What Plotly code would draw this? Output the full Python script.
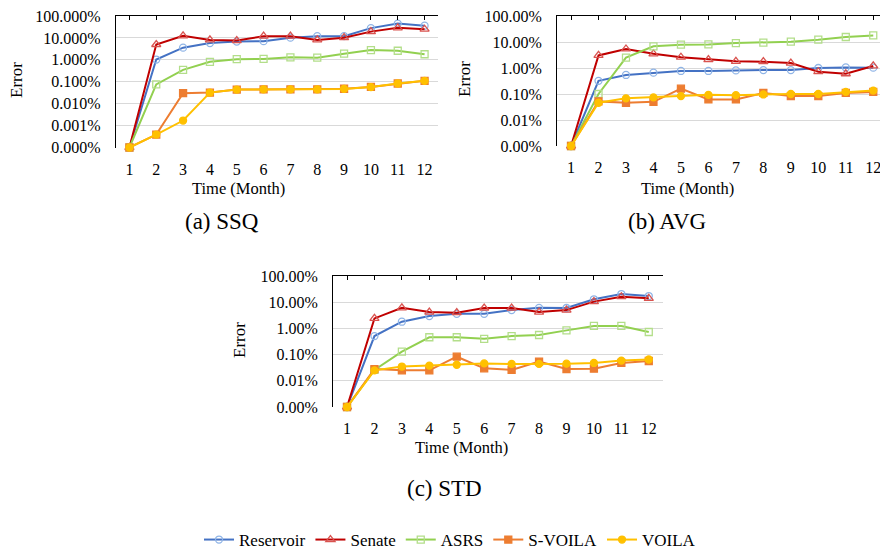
import math
import plotly.graph_objects as go

# page is rendered with the browser's default 8px body margin, so the figure is 8px smaller
OFF = 8
W, H = 888 - OFF, 551 - OFF

months = list(range(1, 13))
series_names = ["Reservoir", "Senate", "ASRS", "S-VOILA", "VOILA"]

# Error values in percent. Month 1 has zero error; it sits on the bottom tick ("0.000%"/"0.00%").
ssq_reservoir = [1e-4, 1.03, 3.6, 5.8, 6.8, 7.1, 10.3, 12, 12, 28, 45, 36]
ssq_senate = [1e-4, 5.0, 12.5, 8.1, 7.6, 12, 12, 8.1, 10.3, 19.4, 29, 25]
ssq_asrs = [1e-4, 0.076, 0.35, 0.81, 1.07, 1.1, 1.3, 1.25, 1.9, 2.8, 2.6, 1.8]
ssq_svoila = [1e-4, 0.00039, 0.030, 0.032, 0.044, 0.045, 0.045, 0.045, 0.048, 0.058, 0.083, 0.11]
ssq_voila = [1e-4, 0.00039, 0.0017, 0.032, 0.044, 0.045, 0.045, 0.045, 0.047, 0.057, 0.083, 0.11]

avg_reservoir = [1e-3, 0.32, 0.54, 0.66, 0.77, 0.77, 0.81, 0.83, 0.83, 1.0, 1.05, 1.03]
avg_senate = [1e-3, 3.05, 5.4, 3.5, 2.6, 2.1, 1.8, 1.75, 1.55, 0.72, 0.6, 1.2]
avg_asrs = [1e-3, 0.10, 2.5, 6.8, 7.9, 8.1, 9.1, 9.4, 10.3, 12.3, 15.6, 17.9]
avg_svoila = [1e-3, 0.052, 0.046, 0.05, 0.16, 0.062, 0.062, 0.11, 0.083, 0.083, 0.11, 0.12]
avg_voila = [1e-3, 0.046, 0.068, 0.074, 0.083, 0.093, 0.09, 0.096, 0.10, 0.10, 0.12, 0.135]

std_reservoir = [1e-3, 0.51, 1.8, 2.95, 3.6, 3.6, 5.0, 6.1, 6.0, 12.9, 20.5, 17.2]
std_senate = [1e-3, 2.4, 6.1, 4.2, 4.0, 6.0, 6.0, 4.2, 5.0, 10.5, 16.2, 14.1]
std_asrs = [1e-3, 0.026, 0.13, 0.46, 0.46, 0.40, 0.51, 0.56, 0.84, 1.24, 1.24, 0.73]
std_svoila = [1e-3, 0.028, 0.025, 0.025, 0.083, 0.030, 0.026, 0.054, 0.028, 0.029, 0.048, 0.057]
std_voila = [1e-3, 0.025, 0.035, 0.038, 0.041, 0.046, 0.044, 0.044, 0.045, 0.048, 0.059, 0.065]

ssq_tickvals = [1e-4, 1e-3, 1e-2, 1e-1, 1, 10, 100]
ssq_ticktext = ["0.000%", "0.001%", "0.010%", "0.100%", "1.000%", "10.000%", "100.000%"]
avg_tickvals = [1e-3, 1e-2, 1e-1, 1, 10, 100]
avg_ticktext = ["0.00%", "0.01%", "0.10%", "1.00%", "10.00%", "100.00%"]
std_tickvals = avg_tickvals
std_ticktext = avg_ticktext

captions = ["(a) SSQ", "(b) AVG", "(c) STD"]

# styles
line_colors = ["#4472C4", "#C00000", "#92D050", "#ED7D31", "#FFC000"]
marker_colors = ["#8FB4E6", "#D9534F", "#B3DE8A", "#ED7D31", "#FFC000"]
symbols = ["circle-open", "triangle-up-open", "square-open", "square", "circle"]
msizes = [7, 8, 7, 7, 7]

FONT = "Liberation Serif"


def px_x(x):
    return (x - OFF) / W


def px_y(y):
    return 1 - (y - OFF) / H


# panel pixel boxes in page pixels: (left, right, top, bottom)
boxes = [(116, 438, 16, 147.5), (557.3, 887, 16, 146), (333.3, 662.5, 276, 407)]
panels = [
    ([ssq_reservoir, ssq_senate, ssq_asrs, ssq_svoila, ssq_voila], ssq_tickvals, ssq_ticktext),
    ([avg_reservoir, avg_senate, avg_asrs, avg_svoila, avg_voila], avg_tickvals, avg_ticktext),
    ([std_reservoir, std_senate, std_asrs, std_svoila, std_voila], std_tickvals, std_ticktext),
]

fig = go.Figure()
layout = {}
for p, ((series, tv, tt), (l, r, t, b)) in enumerate(zip(panels, boxes)):
    xa = "x" if p == 0 else f"x{p+1}"
    ya = "y" if p == 0 else f"y{p+1}"
    for i, vals in enumerate(series):
        fig.add_trace(go.Scatter(
            x=months, y=vals, xaxis=xa, yaxis=ya, mode="lines+markers",
            name=series_names[i], legendgroup=series_names[i], showlegend=(p == 0),
            line=dict(color=line_colors[i], width=2),
            marker=dict(symbol=symbols[i], size=msizes[i], color=marker_colors[i],
                        line=dict(width=1.3, color=marker_colors[i])),
            cliponaxis=False,
        ))
    xkey = "xaxis" if p == 0 else f"xaxis{p+1}"
    ykey = "yaxis" if p == 0 else f"yaxis{p+1}"
    layout[xkey] = dict(domain=[px_x(l), min(1.0, px_x(r))], anchor=ya, range=[0.5, 12.5],
                        tickvals=months, ticktext=[str(m) for m in months],
                        showgrid=False, showline=False, ticks="", zeroline=False,
                        tickfont=dict(family=FONT, size=16, color="#000"),
                        ticklabelstandoff=10, ticklabeloverflow="allow")
    layout[ykey] = dict(domain=[px_y(b), px_y(t)], anchor=xa, type="log",
                        range=[math.log10(tv[0]), math.log10(tv[-1]) + 1e-6],
                        tickvals=tv, ticktext=tt, showgrid=True, gridcolor="#D9D9D9",
                        gridwidth=1, showline=True, linecolor="#000", linewidth=1.3,
                        ticks="", tickfont=dict(family=FONT, size=16, color="#000"),
                        ticklabelstandoff=11, ticklabeloverflow="allow")
    # top frame axis with inward ticks
    tkey = f"xaxis{p+4}"
    layout[tkey] = dict(overlaying=xa, anchor=ya, side="top", range=[0.5, 12.5],
                        tickvals=months, ticks="inside", ticklen=4, tickcolor="#000",
                        showticklabels=False, showgrid=False, showline=True,
                        linecolor="#000", linewidth=1.3, zeroline=False)

# empty traces so the top frame axes render
for p in range(3):
    ya = "y" if p == 0 else f"y{p+1}"
    fig.add_trace(go.Scatter(x=[None], y=[None], xaxis=f"x{p+4}", yaxis=ya,
                             showlegend=False, hoverinfo="skip"))

ann = []
xtitle_pos = [(238, 188), (687, 188), (462, 447)]
ytitle_pos = [(16, 80), (464, 79), (239, 340)]
cap_pos = [(222, 221), (667, 221), (444, 488)]
for (xx, yy) in xtitle_pos:
    ann.append(dict(x=px_x(xx), y=px_y(yy), xref="paper", yref="paper", text="Time (Month)",
                    showarrow=False, font=dict(family=FONT, size=16.5, color="#000"),
                    xanchor="center", yanchor="middle"))
for (xx, yy) in ytitle_pos:
    ann.append(dict(x=px_x(xx), y=px_y(yy), xref="paper", yref="paper", text="Error",
                    showarrow=False, textangle=-90, font=dict(family=FONT, size=17, color="#000"),
                    xanchor="center", yanchor="middle"))
for c, (xx, yy) in zip(captions, cap_pos):
    ann.append(dict(x=px_x(xx), y=px_y(yy), xref="paper", yref="paper", text=c,
                    showarrow=False, font=dict(family=FONT, size=23, color="#000"),
                    xanchor="center", yanchor="middle"))

fig.update_layout(
    width=W, height=H, margin=dict(l=0, r=0, t=0, b=0, autoexpand=False),
    paper_bgcolor="white", plot_bgcolor="white",
    font=dict(family=FONT, color="#000"),
    annotations=ann,
    legend=dict(orientation="h", x=px_x(450), xanchor="center", y=px_y(540), yanchor="middle",
                font=dict(family=FONT, size=17, color="#000"), itemwidth=30,
                tracegroupgap=0, bgcolor="rgba(0,0,0,0)"),
    showlegend=True,
    **layout,
)

fig.write_html("out.html")
